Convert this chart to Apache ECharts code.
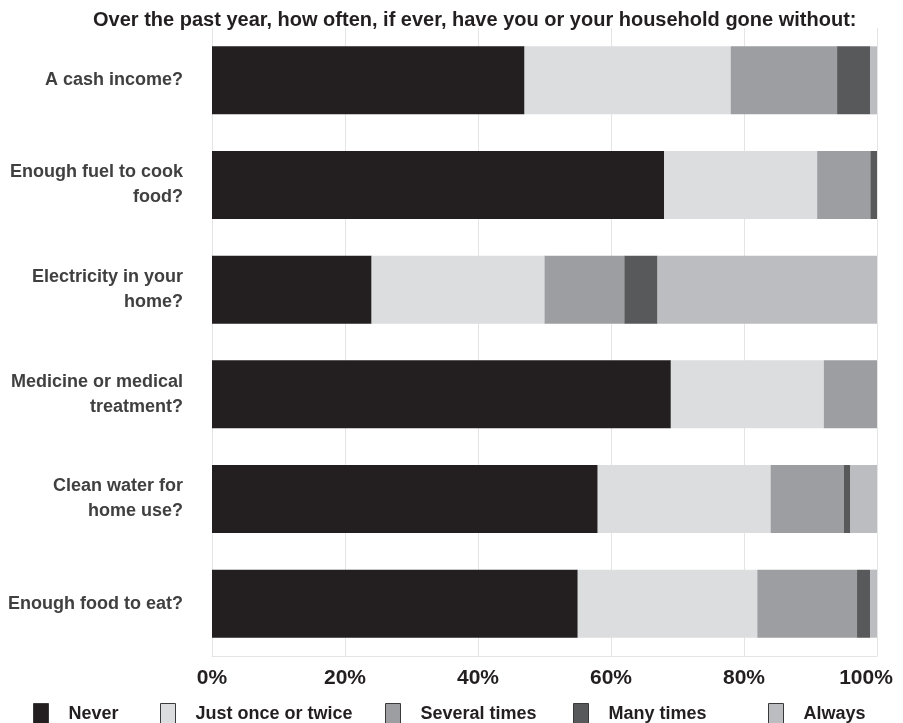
<!DOCTYPE html>
<html><head><meta charset="utf-8">
<script src="https://cdn.jsdelivr.net/npm/echarts@6/dist/echarts.min.js"></script>
<style>html,body{margin:0;padding:0;background:#fff}#c{width:903px;height:723px}</style>
</head><body><div id="c"></div>
<script>
const categories = ["A cash income?", "Enough fuel to cook\nfood?", "Electricity in your\nhome?", "Medicine or medical\ntreatment?", "Clean water for\nhome use?", "Enough food to eat?"];
const seriesNames = ["Never", "Just once or twice", "Several times", "Many times", "Always"];
const never = [47, 68, 24, 69, 58, 55];
const onceTwice = [31, 23, 26, 23, 26, 27];
const several = [16, 8, 12, 8, 11, 15];
const many = [5, 1, 5, 0, 1, 2];
const always = [1, 0, 33, 0, 4, 1];
const xTicks = [0, 20, 40, 60, 80, 100];
const colors = ["#231f20", "#dcdddf", "#9d9ea1", "#58595b", "#bcbdc1"];
const values = [never, onceTwice, several, many, always];
const legendLeft = [28, 155, 380, 568, 763];
const font = "'Liberation Sans', Arial, Helvetica, sans-serif";

const labelStyle = {fontFamily: font, fontSize: 21, fontWeight: 'bold', color: '#231f20'};
const chart = echarts.init(document.getElementById('c'));
chart.setOption({
  animation: false,
  title: {
    text: "Over the past year, how often, if ever, have you or your household gone without:",
    left: 88, top: 5,
    textStyle: {fontFamily: font, fontSize: 20, fontWeight: 'bold', color: '#231f20'}
  },
  legend: seriesNames.map((n, i) => ({
    left: legendLeft[i], top: 698,
    icon: 'rect',
    itemWidth: 15, itemHeight: 22,
    data: [n],
    textStyle: {fontFamily: font, fontSize: 18, fontWeight: 'bold', color: '#231f20', padding: [6, 0, 0, 15]},
    itemStyle: {borderColor: '#3a3a3a', borderWidth: 1}
  })),
  grid: {left: 212, right: 26, top: 28, bottom: 67, containLabel: false, outerBoundsMode: 'none'},
  xAxis: {
    type: 'value', min: 0, max: 100, interval: 20,
    axisLabel: Object.assign({
      formatter: v => v === xTicks[xTicks.length - 1] ? '{r|' + v + '%}' : v + '%',
      margin: 12,
      rich: {r: Object.assign({padding: [0, 22, 0, 0]}, labelStyle)}
    }, labelStyle),
    splitLine: {show: true, lineStyle: {color: '#e4e4e4', width: 1}},
    axisLine: {show: true, lineStyle: {color: '#e4e4e4'}},
    axisTick: {show: false}
  },
  yAxis: {
    type: 'category', data: categories, inverse: true,
    axisLabel: {fontFamily: font, fontSize: 18, fontWeight: 'bold', color: '#404040', margin: 29, align: 'right', lineHeight: 25},
    axisLine: {show: true, lineStyle: {color: '#e4e4e4'}},
    axisTick: {show: false}
  },
  series: seriesNames.map((n, i) => ({
    name: n, type: 'bar', stack: 'all', barWidth: '65%',
    data: values[i],
    itemStyle: {color: colors[i]},
    emphasis: {disabled: true}
  }))
});
</script></body></html>
